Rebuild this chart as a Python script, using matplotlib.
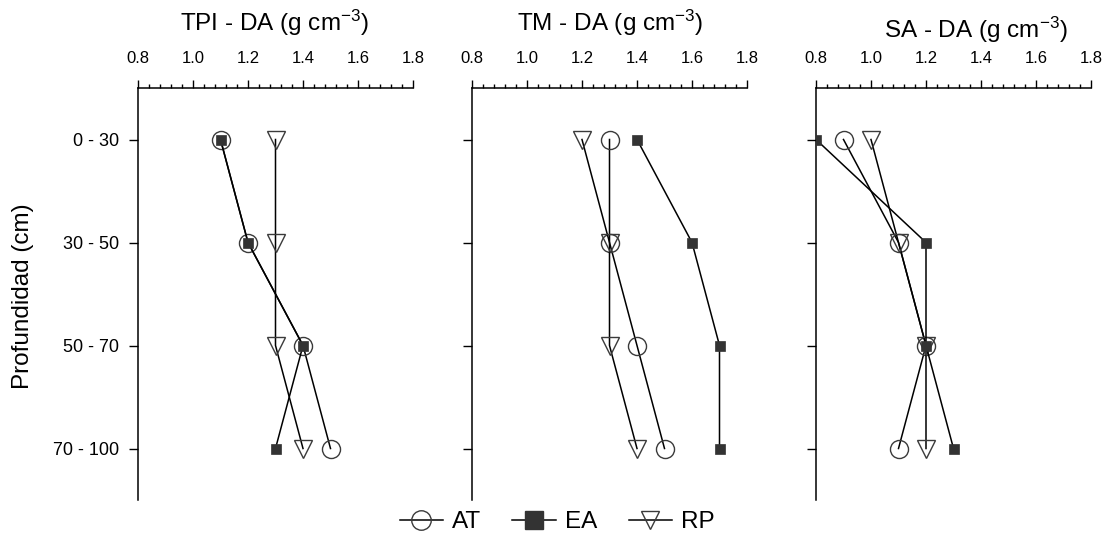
import matplotlib.pyplot as plt
from matplotlib.ticker import MultipleLocator
from matplotlib.lines import Line2D

plt.rcParams['font.family'] = ['Liberation Sans', 'DejaVu Sans']
plt.rcParams['mathtext.fontset'] = 'custom'
plt.rcParams['mathtext.rm'] = 'Liberation Sans'
plt.rcParams['mathtext.it'] = 'Liberation Sans'

# depth classes
depths = ['0 - 30', '30 - 50', '50 - 70', '70 - 100']

# bulk density (g cm-3) per site
sites = ['TPI', 'TM', 'SA']
at = {'TPI': [1.1, 1.2, 1.4, 1.5], 'TM': [1.3, 1.3, 1.4, 1.5], 'SA': [0.9, 1.1, 1.2, 1.1]}
ea = {'TPI': [1.1, 1.2, 1.4, 1.3], 'TM': [1.4, 1.6, 1.7, 1.7], 'SA': [0.8, 1.2, 1.2, 1.3]}
rp = {'TPI': [1.3, 1.3, 1.3, 1.4], 'TM': [1.2, 1.3, 1.3, 1.4], 'SA': [1.0, 1.1, 1.2, 1.2]}

W, H = 1113, 540
fig = plt.figure(figsize=(W / 100, H / 100), dpi=100)

lefts = [138, 472, 816]
aw = 275
top, bottom = 88, 500
title_pos = [(275, 23), (610, 23), (976, 30)]

ypos = list(range(len(depths)))
edge = '#3a3a3a'

for i, s in enumerate(sites):
    ax = fig.add_axes([lefts[i] / W, 1 - bottom / H, aw / W, (bottom - top) / H])
    ax.plot(at[s], ypos, color='black', lw=1.1, marker='o', ms=13,
            mfc='none', mec=edge, mew=1.0, zorder=3)
    ax.plot(ea[s], ypos, color='black', lw=1.1, marker='s', ms=7.5,
            mfc='#333333', mec='#333333', mew=0.5, zorder=4)
    ax.plot(rp[s], ypos, color='black', lw=1.1, marker='v', ms=13,
            mfc='none', mec=edge, mew=1.0, zorder=3)

    ax.set_xlim(0.8, 1.8)
    ax.set_ylim(3.5, -0.5)
    ax.xaxis.tick_top()
    ax.xaxis.set_minor_locator(MultipleLocator(0.04))
    ax.set_xticks([0.8, 1.0, 1.2, 1.4, 1.6, 1.8])
    ax.set_xticklabels(['0.8', '1.0', '1.2', '1.4', '1.6', '1.8'])
    ax.tick_params(axis='x', which='major', direction='out', length=6,
                   width=1, pad=10, labelsize=12)
    ax.tick_params(axis='x', which='minor', direction='out', length=3, width=1)
    ax.set_yticks(ypos)
    if i == 0:
        ax.set_yticklabels(depths)
    else:
        ax.set_yticklabels([])
    ax.tick_params(axis='y', direction='out', length=6.5, width=1, pad=7,
                   labelsize=13)
    for sp in ['right', 'bottom']:
        ax.spines[sp].set_visible(False)
    for sp in ['left', 'top']:
        ax.spines[sp].set_linewidth(1.1)

    tx, ty = title_pos[i]
    fig.text(tx / W, 1 - ty / H, s + r' - DA (g cm$^{-3}$)', fontsize=17.5,
             ha='center', va='center')

fig.text(23 / W, 1 - 296 / H, 'Profundidad (cm)', fontsize=17.5,
         rotation=90, ha='center', va='center')

handles = [
    Line2D([], [], color='black', lw=1.1, marker='o', ms=14, mfc='none', mec=edge),
    Line2D([], [], color='black', lw=1.1, marker='s', ms=13, mfc='#333333', mec='#333333'),
    Line2D([], [], color='black', lw=1.1, marker='v', ms=13, mfc='none', mec=edge),
]
fig.legend(handles, ['AT', 'EA', 'RP'], loc='center', ncol=3,
           bbox_to_anchor=(557 / W, 1 - 522 / H), frameon=False,
           fontsize=17.5, handlelength=1.8, columnspacing=1.3, handletextpad=0.35,
           borderpad=0.1)

fig.savefig('out.png', dpi=100)
